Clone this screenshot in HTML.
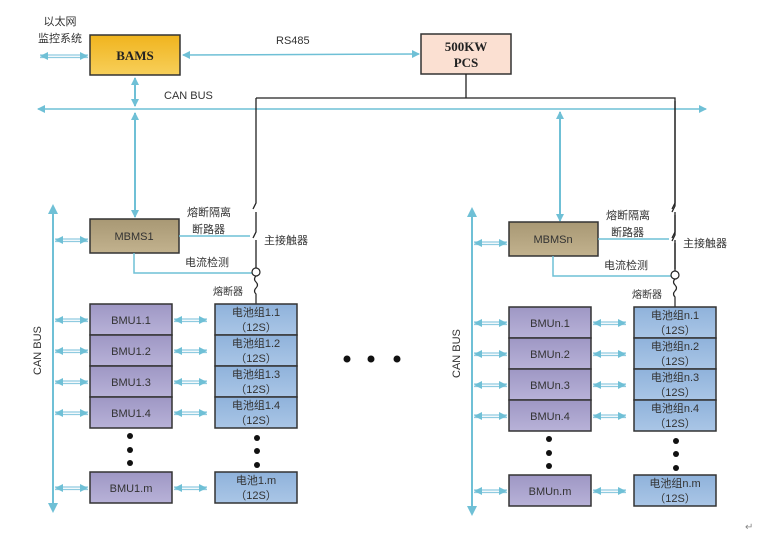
<!DOCTYPE html>
<html><head><meta charset="utf-8"><style>
html,body{margin:0;padding:0;background:#fff;width:758px;height:546px;overflow:hidden}
text{font-family:"Liberation Sans","Noto Sans CJK SC",sans-serif;font-size:11px;fill:#333}
.s{font-family:"Liberation Serif","Noto Serif CJK SC",serif;font-weight:bold;font-size:13px;fill:#222}
</style></head><body>
<svg width="758" height="546" viewBox="0 0 758 546" xmlns="http://www.w3.org/2000/svg">
<defs>
<marker id="a" markerWidth="8" markerHeight="8" refX="7" refY="4" orient="auto" markerUnits="userSpaceOnUse"><path d="M0,0 L8,4 L0,8 z" fill="#6fc0d6"/></marker>
<marker id="b" markerWidth="8" markerHeight="8" refX="1" refY="4" orient="auto" markerUnits="userSpaceOnUse"><path d="M8,0 L0,4 L8,8 z" fill="#6fc0d6"/></marker>
<linearGradient id="gb" x1="0" y1="0" x2="0" y2="1"><stop offset="0" stop-color="#f0b41e"/><stop offset="1" stop-color="#f7cf5a"/></linearGradient>
<linearGradient id="gm" x1="0" y1="0" x2="0" y2="1"><stop offset="0" stop-color="#a89874"/><stop offset="1" stop-color="#c2b28e"/></linearGradient>
<linearGradient id="gu" x1="0" y1="0" x2="0" y2="1"><stop offset="0" stop-color="#9e97c4"/><stop offset="1" stop-color="#b8b2d8"/></linearGradient>
<linearGradient id="gc" x1="0" y1="0" x2="0" y2="1"><stop offset="0" stop-color="#8fb2db"/><stop offset="1" stop-color="#aac6e6"/></linearGradient>
<g id="da"><line x1="0" y1="-1" x2="33" y2="-1" stroke="#8fcbe0" stroke-width="1.2"/><line x1="0" y1="1.5" x2="33" y2="1.5" stroke="#8fcbe0" stroke-width="1.2"/><path d="M0,0 l8,-4 v8z M33,0 l-8,-4 v8z" fill="#6fc0d6"/></g>
<g id="cl">
 <line x1="53" y1="212" x2="53" y2="505" stroke="#6fc0d6" stroke-width="2"/>
 <path d="M53,204 l-5,10 h10z M53,513 l-5,-10 h10z" fill="#6fc0d6"/>
 <use href="#da" x="55" y="240"/>
 <rect x="90" y="219" width="89" height="34" fill="url(#gm)" stroke="#333" stroke-width="1.5"/>
 <line x1="179" y1="236" x2="250" y2="236" stroke="#6fc0d6" stroke-width="1.5"/>
 <path d="M134,253 V273 H252" fill="none" stroke="#6fc0d6" stroke-width="1.5"/>
 <text x="187" y="216">熔断隔离</text><text x="192" y="233">断路器</text>
 <text x="264" y="244">主接触器</text><text x="185" y="266">电流检测</text>
 <path d="M256,98 V203 l-3,6 M256,212 V232 l-3,6 M256,240 V268" fill="none" stroke="#222" stroke-width="1.3"/>
 <circle cx="256" cy="272" r="4" fill="#fff" stroke="#222" stroke-width="1.2"/>
 <path d="M256,276 q-3,3 0,6 q3,3 0,6 q-3,3 0,6 V304" fill="none" stroke="#222" stroke-width="1.2"/>
 <text x="213" y="295" style="font-size:10px">熔断器</text>
 <g stroke="#333" stroke-width="1.5">
 <rect x="90" y="304" width="82" height="31" fill="url(#gu)"/><rect x="90" y="335" width="82" height="31" fill="url(#gu)"/>
 <rect x="90" y="366" width="82" height="31" fill="url(#gu)"/><rect x="90" y="397" width="82" height="31" fill="url(#gu)"/>
 <rect x="90" y="472" width="82" height="31" fill="url(#gu)"/>
 <rect x="215" y="304" width="82" height="31" fill="url(#gc)"/><rect x="215" y="335" width="82" height="31" fill="url(#gc)"/>
 <rect x="215" y="366" width="82" height="31" fill="url(#gc)"/><rect x="215" y="397" width="82" height="31" fill="url(#gc)"/>
 <rect x="215" y="472" width="82" height="31" fill="url(#gc)"/>
 </g>
 <use href="#da" x="55" y="320"/><use href="#da" x="55" y="351"/><use href="#da" x="55" y="382"/><use href="#da" x="55" y="413"/><use href="#da" x="55" y="488"/>
 <use href="#da" x="174" y="320"/><use href="#da" x="174" y="351"/><use href="#da" x="174" y="382"/><use href="#da" x="174" y="413"/><use href="#da" x="174" y="488"/>
 <g fill="#111"><circle cx="130" cy="436" r="3"/><circle cx="130" cy="450" r="3"/><circle cx="130" cy="463" r="3"/>
 <circle cx="257" cy="438" r="3"/><circle cx="257" cy="451" r="3"/><circle cx="257" cy="465" r="3"/></g>
 <text transform="translate(41,375) rotate(-90)" style="font-size:11px">CAN  BUS</text>
</g>
</defs>
<rect x="90" y="35" width="90" height="40" fill="url(#gb)" stroke="#333" stroke-width="1.5"/>
<text x="135" y="60" class="s" text-anchor="middle">BAMS</text>
<rect x="421" y="34" width="90" height="40" fill="#fbe0d2" stroke="#333" stroke-width="1.5"/>
<text x="466" y="51" class="s" text-anchor="middle">500KW</text><text x="466" y="67" class="s" text-anchor="middle">PCS</text>
<text x="60" y="25" text-anchor="middle">以太网</text><text x="60" y="42" text-anchor="middle">监控系统</text>
<g><line x1="40" y1="55" x2="88" y2="55" stroke="#8fcbe0" stroke-width="1.2"/><line x1="40" y1="57.5" x2="88" y2="57.5" stroke="#8fcbe0" stroke-width="1.2"/><path d="M40,56 l8,-4 v8z M88,56 l-8,-4 v8z" fill="#6fc0d6"/></g>
<line x1="183" y1="55" x2="419" y2="54" stroke="#6fc0d6" stroke-width="1.5" marker-start="url(#b)" marker-end="url(#a)"/>
<text x="276" y="44">RS485</text>
<text x="164" y="99">CAN  BUS</text>
<line x1="38" y1="109" x2="706" y2="109" stroke="#6fc0d6" stroke-width="1.5" marker-start="url(#b)" marker-end="url(#a)"/>
<path d="M466,74 V98 M256,98 H675 V203 l-3,6 M675,212 V232 l-3,6 M675,240 V269" fill="none" stroke="#222" stroke-width="1.3"/>
<line x1="135" y1="78" x2="135" y2="106" stroke="#6fc0d6" stroke-width="2" marker-start="url(#b)" marker-end="url(#a)"/>
<line x1="135" y1="113" x2="135" y2="217" stroke="#6fc0d6" stroke-width="2" marker-start="url(#b)" marker-end="url(#a)"/>
<line x1="560" y1="112" x2="560" y2="221" stroke="#6fc0d6" stroke-width="2" marker-start="url(#b)" marker-end="url(#a)"/>
<use href="#cl"/>
<g transform="translate(419,3)"><use href="#cl"/></g>
<g font-size="11">
<text x="131" y="324" text-anchor="middle">BMU1.1</text><text x="131" y="355" text-anchor="middle">BMU1.2</text><text x="131" y="386" text-anchor="middle">BMU1.3</text><text x="131" y="417" text-anchor="middle">BMU1.4</text><text x="131" y="492" text-anchor="middle">BMU1.m</text>
<text x="256" y="316" text-anchor="middle">电池组1.1</text><text x="256" y="331" text-anchor="middle">（12S）</text>
<text x="256" y="347" text-anchor="middle">电池组1.2</text><text x="256" y="362" text-anchor="middle">（12S）</text>
<text x="256" y="378" text-anchor="middle">电池组1.3</text><text x="256" y="393" text-anchor="middle">（12S）</text>
<text x="256" y="409" text-anchor="middle">电池组1.4</text><text x="256" y="424" text-anchor="middle">（12S）</text>
<text x="256" y="484" text-anchor="middle">电池1.m</text><text x="256" y="499" text-anchor="middle">（12S）</text>
<text x="134" y="240" text-anchor="middle">MBMS1</text>
<text x="550" y="327" text-anchor="middle">BMUn.1</text><text x="550" y="358" text-anchor="middle">BMUn.2</text><text x="550" y="389" text-anchor="middle">BMUn.3</text><text x="550" y="420" text-anchor="middle">BMUn.4</text><text x="550" y="495" text-anchor="middle">BMUn.m</text>
<text x="675" y="319" text-anchor="middle">电池组n.1</text><text x="675" y="334" text-anchor="middle">（12S）</text>
<text x="675" y="350" text-anchor="middle">电池组n.2</text><text x="675" y="365" text-anchor="middle">（12S）</text>
<text x="675" y="381" text-anchor="middle">电池组n.3</text><text x="675" y="396" text-anchor="middle">（12S）</text>
<text x="675" y="412" text-anchor="middle">电池组n.4</text><text x="675" y="427" text-anchor="middle">（12S）</text>
<text x="675" y="487" text-anchor="middle">电池组n.m</text><text x="675" y="502" text-anchor="middle">（12S）</text>
<text x="553" y="243" text-anchor="middle">MBMSn</text>
</g>
<g fill="#111"><circle cx="347" cy="359" r="3.5"/><circle cx="371" cy="359" r="3.5"/><circle cx="397" cy="359" r="3.5"/></g>
<text x="745" y="530" style="font-size:10px;fill:#888">↵</text>
</svg>
</body></html>
